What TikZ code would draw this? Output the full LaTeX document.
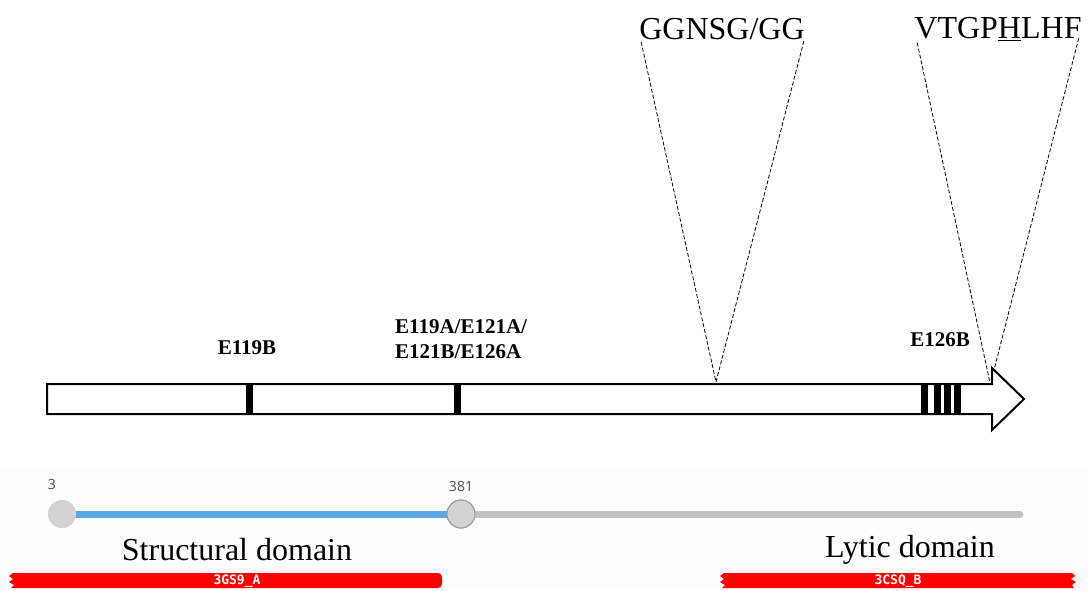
\documentclass[tikz,border=0pt]{standalone}
\usepackage{fontspec}
\setmainfont{Liberation Serif}
\newfontfamily\numfont{Open Sans}
\newfontfamily\pdbfont{DejaVu Sans Mono}
\usetikzlibrary{positioning}
\definecolor{trackblue}{HTML}{5AA5E6}
\definecolor{trackgray}{HTML}{C2C2C2}
\definecolor{knobgray}{HTML}{D3D3D3}
\definecolor{pdbred}{HTML}{FF0000}
\definecolor{panelbg}{HTML}{FDFDFD}
\tikzstyle{site} = [rectangle, fill=black, draw=none, minimum width=7pt,
    minimum height=30pt, inner sep=0pt]
\tikzstyle{mutlabel} = [font=\bfseries\fontsize{21}{25}\selectfont, align=left, inner sep=0pt]
\tikzstyle{motif} = [font=\fontsize{32}{36}\selectfont, inner sep=0pt]
\tikzstyle{zoomline} = [draw, line width=0.8pt, dash pattern=on 4pt off 2pt]
\tikzstyle{domlabel} = [font=\fontsize{32}{36}\selectfont, inner sep=0pt]
\tikzstyle{knob} = [circle, fill=knobgray, minimum size=28pt, inner sep=0pt]
\tikzstyle{posnum} = [font=\numfont\fontsize{14}{16}\selectfont, text=black!70, inner sep=0pt]
\tikzstyle{pdb} = [font=\pdbfont\bfseries\fontsize{13}{14}\selectfont, text=white, inner sep=0pt]

\begin{document}
\begin{tikzpicture}[x=1pt,y=-1pt]
    \useasboundingbox (0,0) rectangle (1088,590);
    \fill[panelbg] (0,468) rectangle (1088,590);
    % Gene arrow
    \draw[line width=2pt, fill=white] (47,384) -- (992,384) -- (992,368) -- (1024,399)
        -- (992,430) -- (992,414) -- (47,414) -- cycle;
    % Place nodes
    \node[site] (s119b) at (249,399) {};
    \node[site] (s119a) at (457,399) {};
    \node[site] (s126a) at (924,399) {};
    \node[site] (s126b) at (937,399) {};
    \node[site] (s126c) at (947,399) {};
    \node[site] (s126d) at (957,399) {};
    \node[mutlabel] (l119b) at (247,348) {E119B};
    \node[mutlabel, anchor=west] (l119a) at (395,339) {E119A/E121A/\\E121B/E126A};
    \node[mutlabel] (l126b) at (940,340) {E126B};
    \node[motif] (ggnsg) at (722,29) {GGNSG/GG};
    \node[motif] (vtgp) at (998,29) {VTGP\underline{H}LHF};
    \coordinate (gg-site) at (716,382);
    \coordinate (hl-site) at (990,383);
    \coordinate (hl-tip) at (994,370);
    % Draw edges
    \path[zoomline] ([xshift=2pt,yshift=-2pt]ggnsg.south west) -- (gg-site);
    \path[zoomline] ([xshift=-1pt,yshift=-1pt]ggnsg.south east) -- (gg-site);
    \path[zoomline] ([xshift=3pt,yshift=-2pt]vtgp.south west) -- (hl-site);
    \path[zoomline] ([xshift=-3pt,yshift=2pt]vtgp.north east |- ggnsg.south east) -- (hl-tip);
    % Domain track
    \coordinate (trackend) at (1020,514);
    \node[knob] (k3) at (62,514) {};
    \node[knob, draw=black!40, line width=1pt] (k381) at (461,514) {};
    \draw[trackgray, line width=7pt, line cap=round] (k381.center) -- (trackend);
    \draw[trackblue, line width=7pt] (k3.center) -- (k381.center);
    \node[knob] at (k3) {};
    \node[knob, draw=black!40, line width=1pt] at (k381) {};
    \node[posnum] (p3) at (52,484) {3};
    \node[posnum] (p381) at (461,486) {381};
    \node[domlabel] (struct) at (237,550) {Structural domain};
    \node[domlabel] (lytic) at (910,550) {Lytic domain};
    % PDB hits
    \fill[pdbred] (13,573) [rounded corners=4pt] -- (442,573) -- (442,588) [sharp corners]
        -- (11,588) -- (14,585) -- (9,582) -- (13,579) -- (9,576) -- cycle;
    \fill[pdbred] (724,573) -- (1072,573) -- (1075,576) -- (1071,579) -- (1076,582)
        -- (1072,585) -- (1074,588) -- (722,588) -- (725,585) -- (720,582) -- (724,579)
        -- (720,576) -- cycle;
    \node[pdb] (h1) at (237,581) {3GS9\_A};
    \node[pdb] (h2) at (898,581) {3CSQ\_B};
\end{tikzpicture}
\end{document}
